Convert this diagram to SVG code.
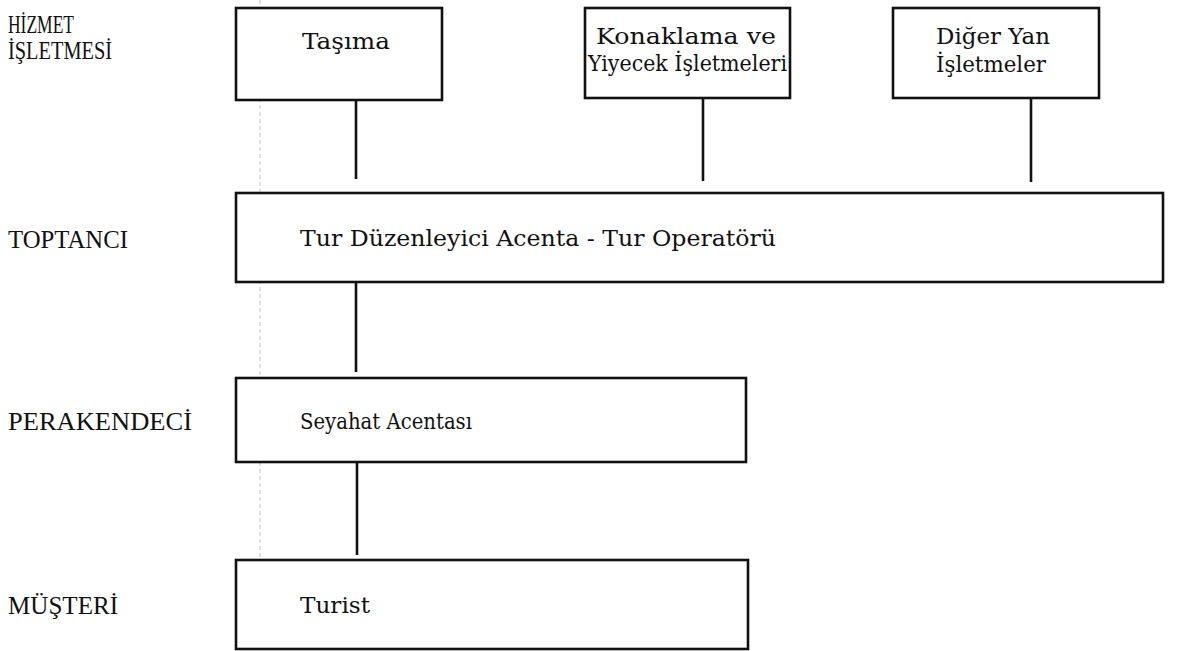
<svg xmlns="http://www.w3.org/2000/svg" width="1177" height="651" viewBox="0 0 1177 651">
<style>
.bg{fill:#ffffff}
.box{fill:#ffffff;stroke:#111111;stroke-width:2.6}
.con{stroke:#111111;stroke-width:2.6;fill:none}
.lbl{font-family:"Liberation Serif","Times New Roman",serif;font-size:25px;fill:#111111}
.txt{font-family:"DejaVu Serif","Liberation Serif",serif;font-size:22px;fill:#111111;font-weight:normal}
.scan{stroke:#c4c4c4;stroke-width:1;stroke-dasharray:4 3;fill:none}
</style>
<rect class="bg" x="0" y="0" width="1177" height="651"/>
<line class="scan" x1="260" y1="0" x2="260" y2="651"/>

<g id="row-labels">
<text class="lbl" x="8" y="33" textLength="66" lengthAdjust="spacingAndGlyphs">HİZMET</text>
<text class="lbl" x="8" y="59" textLength="104" lengthAdjust="spacingAndGlyphs">İŞLETMESİ</text>
<text class="lbl" x="8" y="248" textLength="120" lengthAdjust="spacingAndGlyphs">TOPTANCI</text>
<text class="lbl" x="8" y="430" textLength="184" lengthAdjust="spacingAndGlyphs">PERAKENDECİ</text>
<text class="lbl" x="8" y="614" textLength="110" lengthAdjust="spacingAndGlyphs">MÜŞTERİ</text>
</g>

<g id="connectors">
<line class="con" x1="356" y1="100" x2="356" y2="179"/>
<line class="con" x1="703" y1="98" x2="703" y2="181"/>
<line class="con" x1="1031" y1="98" x2="1031" y2="182"/>
<line class="con" x1="356" y1="282" x2="356" y2="372"/>
<line class="con" x1="357" y1="462" x2="357" y2="555"/>
</g>

<g id="tasima">
<rect class="box" x="236" y="8" width="206" height="92"/>
<text class="txt" x="302" y="49" textLength="88" lengthAdjust="spacingAndGlyphs">Taşıma</text>
</g>

<g id="konaklama">
<rect class="box" x="585" y="8" width="205" height="90"/>
<text class="txt" x="596" y="44" textLength="180" lengthAdjust="spacingAndGlyphs">Konaklama ve</text>
<text class="txt" x="588" y="71" textLength="199" lengthAdjust="spacingAndGlyphs">Yiyecek İşletmeleri</text>
</g>

<g id="diger">
<rect class="box" x="893" y="8" width="206" height="90"/>
<text class="txt" x="936" y="44" textLength="114" lengthAdjust="spacingAndGlyphs">Diğer Yan</text>
<text class="txt" x="936" y="72" textLength="110" lengthAdjust="spacingAndGlyphs">İşletmeler</text>
</g>

<g id="tur-operatoru">
<rect class="box" x="236" y="193" width="927" height="89"/>
<text class="txt" x="300" y="246" textLength="476" lengthAdjust="spacingAndGlyphs">Tur Düzenleyici Acenta - Tur Operatörü</text>
</g>

<g id="seyahat-acentasi">
<rect class="box" x="236" y="378" width="510" height="84"/>
<text class="txt" x="300" y="429" textLength="172" lengthAdjust="spacingAndGlyphs">Seyahat  Acentası</text>
</g>

<g id="turist">
<rect class="box" x="236" y="560" width="512" height="89"/>
<text class="txt" x="300" y="613" textLength="70" lengthAdjust="spacingAndGlyphs">Turist</text>
</g>
</svg>
